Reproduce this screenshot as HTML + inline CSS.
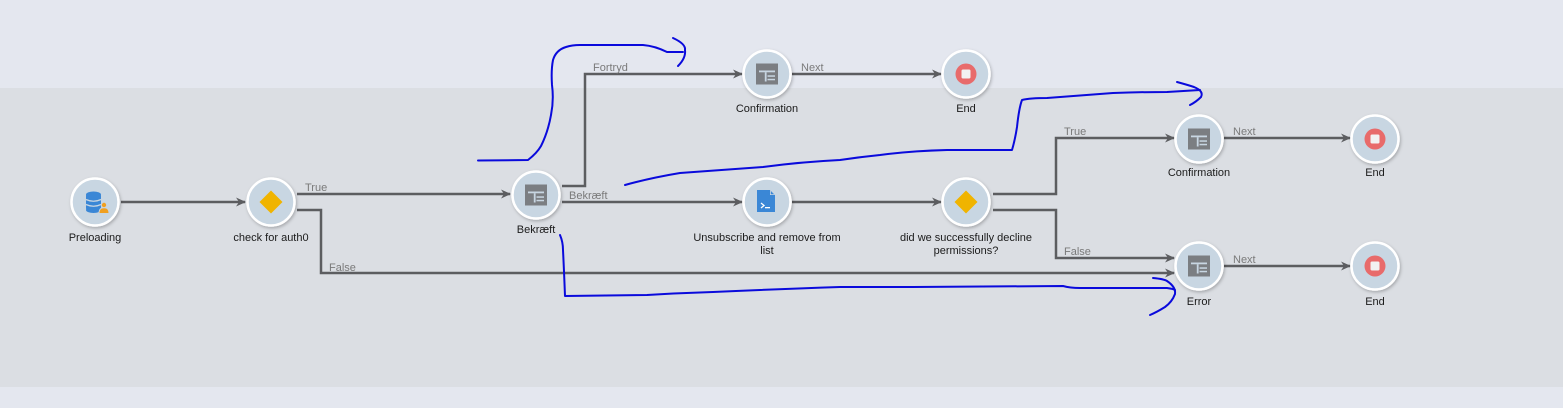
<!DOCTYPE html>
<html>
<head>
<meta charset="utf-8">
<style>
html,body{margin:0;padding:0;width:1563px;height:408px;overflow:hidden;background:#e4e7ef;}
svg{display:block;}
text{font-family:"Liberation Sans",Arial,sans-serif;}
.lbl{font-size:11px;fill:#1b1b1b;text-anchor:middle;}
.cl{font-size:11px;fill:#7a7a7a;}
.ln{fill:none;stroke:#5c5d60;stroke-width:2.5;}
.bl{fill:none;stroke:#0a0adc;stroke-width:2;stroke-linecap:round;stroke-linejoin:round;}
.nd{fill:#c8d6e2;stroke:#ffffff;stroke-width:2.5;}
</style>
</head>
<body>
<svg width="1563" height="408" viewBox="0 0 1563 408" xmlns="http://www.w3.org/2000/svg">
<defs>
<marker id="ar" markerWidth="11" markerHeight="10" refX="9" refY="5" orient="auto" markerUnits="userSpaceOnUse">
<path d="M0,0.5 L10,5 L0,9.5 L3,5 z" fill="#5c5d60"/>
</marker>
<filter id="sh" x="-30%" y="-30%" width="160%" height="160%">
<feDropShadow dx="1" dy="1.5" stdDeviation="1.5" flood-color="#000" flood-opacity="0.25"/>
</filter>
<g id="form">
<rect x="-11" y="-10.5" width="22" height="21" fill="#7b7e82"/>
<rect x="-8" y="-3.5" width="16" height="1.8" fill="#c8d6e2"/>
<rect x="-2.2" y="-1.7" width="1.8" height="9.2" fill="#c8d6e2"/>
<rect x="0.5" y="1.3" width="7.5" height="1.5" fill="#c8d6e2"/>
<rect x="0.5" y="4.8" width="7.5" height="1.5" fill="#c8d6e2"/>
</g>
<g id="end">
<circle r="10.5" fill="#e86b6b"/>
<rect x="-4.5" y="-4.5" width="9" height="9" rx="1.5" fill="#f2f2f2"/>
</g>
<g id="dia">
<path d="M0,-11.5 L11.5,0 L0,11.5 L-11.5,0 z" fill="#f0b400"/>
</g>
</defs>

<!-- bands -->
<rect x="0" y="0" width="1563" height="88" fill="#e4e7ef"/>
<rect x="0" y="88" width="1563" height="299" fill="#dbdee3"/>
<rect x="0" y="387" width="1563" height="21" fill="#e4e7ef"/>

<!-- connectors -->
<path class="ln" d="M121,202 H245" marker-end="url(#ar)"/>
<path class="ln" d="M297,194 H510" marker-end="url(#ar)"/>
<path class="ln" d="M297,210 H321 V273 H1174" marker-end="url(#ar)"/>
<path class="ln" d="M562,186 H585 V74 H742" marker-end="url(#ar)"/>
<path class="ln" d="M562,202 H742" marker-end="url(#ar)"/>
<path class="ln" d="M792,74 H941" marker-end="url(#ar)"/>
<path class="ln" d="M792,202 H941" marker-end="url(#ar)"/>
<path class="ln" d="M993,194 H1056 V138 H1174" marker-end="url(#ar)"/>
<path class="ln" d="M993,210 H1056 V258 H1174" marker-end="url(#ar)"/>
<path class="ln" d="M1224,138 H1350" marker-end="url(#ar)"/>
<path class="ln" d="M1224,266 H1350" marker-end="url(#ar)"/>

<!-- connector labels -->
<text class="cl" x="305" y="191">True</text>
<text class="cl" x="329" y="271">False</text>
<text class="cl" x="593" y="71">Fortryd</text>
<text class="cl" x="569" y="199">Bekræft</text>
<text class="cl" x="801" y="71">Next</text>
<text class="cl" x="1064" y="135">True</text>
<text class="cl" x="1064" y="255">False</text>
<text class="cl" x="1233" y="135">Next</text>
<text class="cl" x="1233" y="263">Next</text>

<!-- nodes -->
<g filter="url(#sh)">
<circle class="nd" cx="95" cy="202" r="23.5"/>
<circle class="nd" cx="271" cy="202" r="23.5"/>
<circle class="nd" cx="536" cy="195" r="23.5"/>
<circle class="nd" cx="767" cy="74" r="23.5"/>
<circle class="nd" cx="966" cy="74" r="23.5"/>
<circle class="nd" cx="767" cy="202" r="23.5"/>
<circle class="nd" cx="966" cy="202" r="23.5"/>
<circle class="nd" cx="1199" cy="139" r="23.5"/>
<circle class="nd" cx="1375" cy="139" r="23.5"/>
<circle class="nd" cx="1199" cy="266" r="23.5"/>
<circle class="nd" cx="1375" cy="266" r="23.5"/>
</g>

<!-- icons -->
<g>
<rect x="86" y="194" width="15" height="16" rx="2" fill="#3a87d6"/>
<ellipse cx="93.5" cy="194.5" rx="7.5" ry="3" fill="#3a87d6"/>
<ellipse cx="93.5" cy="210" rx="7.5" ry="3" fill="#3a87d6"/>
<path d="M86,199.5 Q93.5,203 101,199.5" stroke="#c8d6e2" stroke-width="1.3" fill="none"/>
<path d="M86,204.5 Q93.5,208 101,204.5" stroke="#c8d6e2" stroke-width="1.3" fill="none"/>
<circle cx="104" cy="205" r="2.7" fill="#f0a020" stroke="#c8d6e2" stroke-width="1"/>
<path d="M99,213.5 Q99,207.5 104,207.8 Q109,207.5 109,213.5 z" fill="#f0a020" stroke="#c8d6e2" stroke-width="1"/>
</g>
<use href="#dia" x="271" y="202"/>
<use href="#form" x="536" y="195"/>
<use href="#form" x="767" y="74"/>
<use href="#end" x="966" y="74"/>
<g>
<path d="M757,190 H770 L775,195 V212 H757 z" fill="#3a87d6"/>
<path d="M770,190 V195 H775" fill="#c8d6e2"/>
<path d="M770.8,191 V194.2 H774" fill="#3a87d6"/>
<path d="M761,203 L764,205.5 L761,208" stroke="#fff" stroke-width="1.3" fill="none"/>
<rect x="765" y="207" width="5" height="1.3" fill="#fff"/>
</g>
<use href="#dia" x="966" y="202"/>
<use href="#form" x="1199" y="139"/>
<use href="#end" x="1375" y="139"/>
<use href="#form" x="1199" y="266"/>
<use href="#end" x="1375" y="266"/>

<!-- node labels -->
<text class="lbl" x="95" y="241">Preloading</text>
<text class="lbl" x="271" y="241">check for auth0</text>
<text class="lbl" x="536" y="233">Bekræft</text>
<text class="lbl" x="767" y="112">Confirmation</text>
<text class="lbl" x="966" y="112">End</text>
<text class="lbl" x="767" y="241">Unsubscribe and remove from</text>
<text class="lbl" x="767" y="254">list</text>
<text class="lbl" x="966" y="241">did we successfully decline</text>
<text class="lbl" x="966" y="254">permissions?</text>
<text class="lbl" x="1199" y="176">Confirmation</text>
<text class="lbl" x="1375" y="176">End</text>
<text class="lbl" x="1199" y="305">Error</text>
<text class="lbl" x="1375" y="305">End</text>

<!-- blue hand-drawn strokes -->
<path class="bl" d="M478,160.5 L528,160 Q537,153 541,146 Q548,132 551,115 Q554,100 552,85 Q551,70 553,60 Q556,50 566,47 Q572,45 580,45 L643,45 Q655,46 667,52 L683,52"/>
<path class="bl" d="M673,38 Q686,44 685,50 Q686,58 678,66"/>
<path class="bl" d="M625,185 Q650,178 680,173 Q720,170 763,167 Q800,162 840,160 Q860,157 880,155 Q910,151 947,150 L1012,150 Q1015,140 1017,127 Q1019,108 1022,100 Q1030,98 1047,98 L1113,93 Q1140,92 1167,92 L1200,90"/>
<path class="bl" d="M1177,82 Q1188,85 1194,87 Q1204,91 1201,97 Q1196,102 1190,105"/>
<path class="bl" d="M560,235 Q563,242 563,250 Q564,270 565,296 L647,295 Q680,293 713,292 Q780,289 840,287 L913,287 L1063,286 Q1070,288 1080,288 L1167,288 Q1174,289 1175,290"/>
<path class="bl" d="M1153,278 Q1164,279 1167,281 Q1176,287 1175,294 Q1172,302 1165,307 Q1157,312 1150,315"/>
</svg>
</body>
</html>
